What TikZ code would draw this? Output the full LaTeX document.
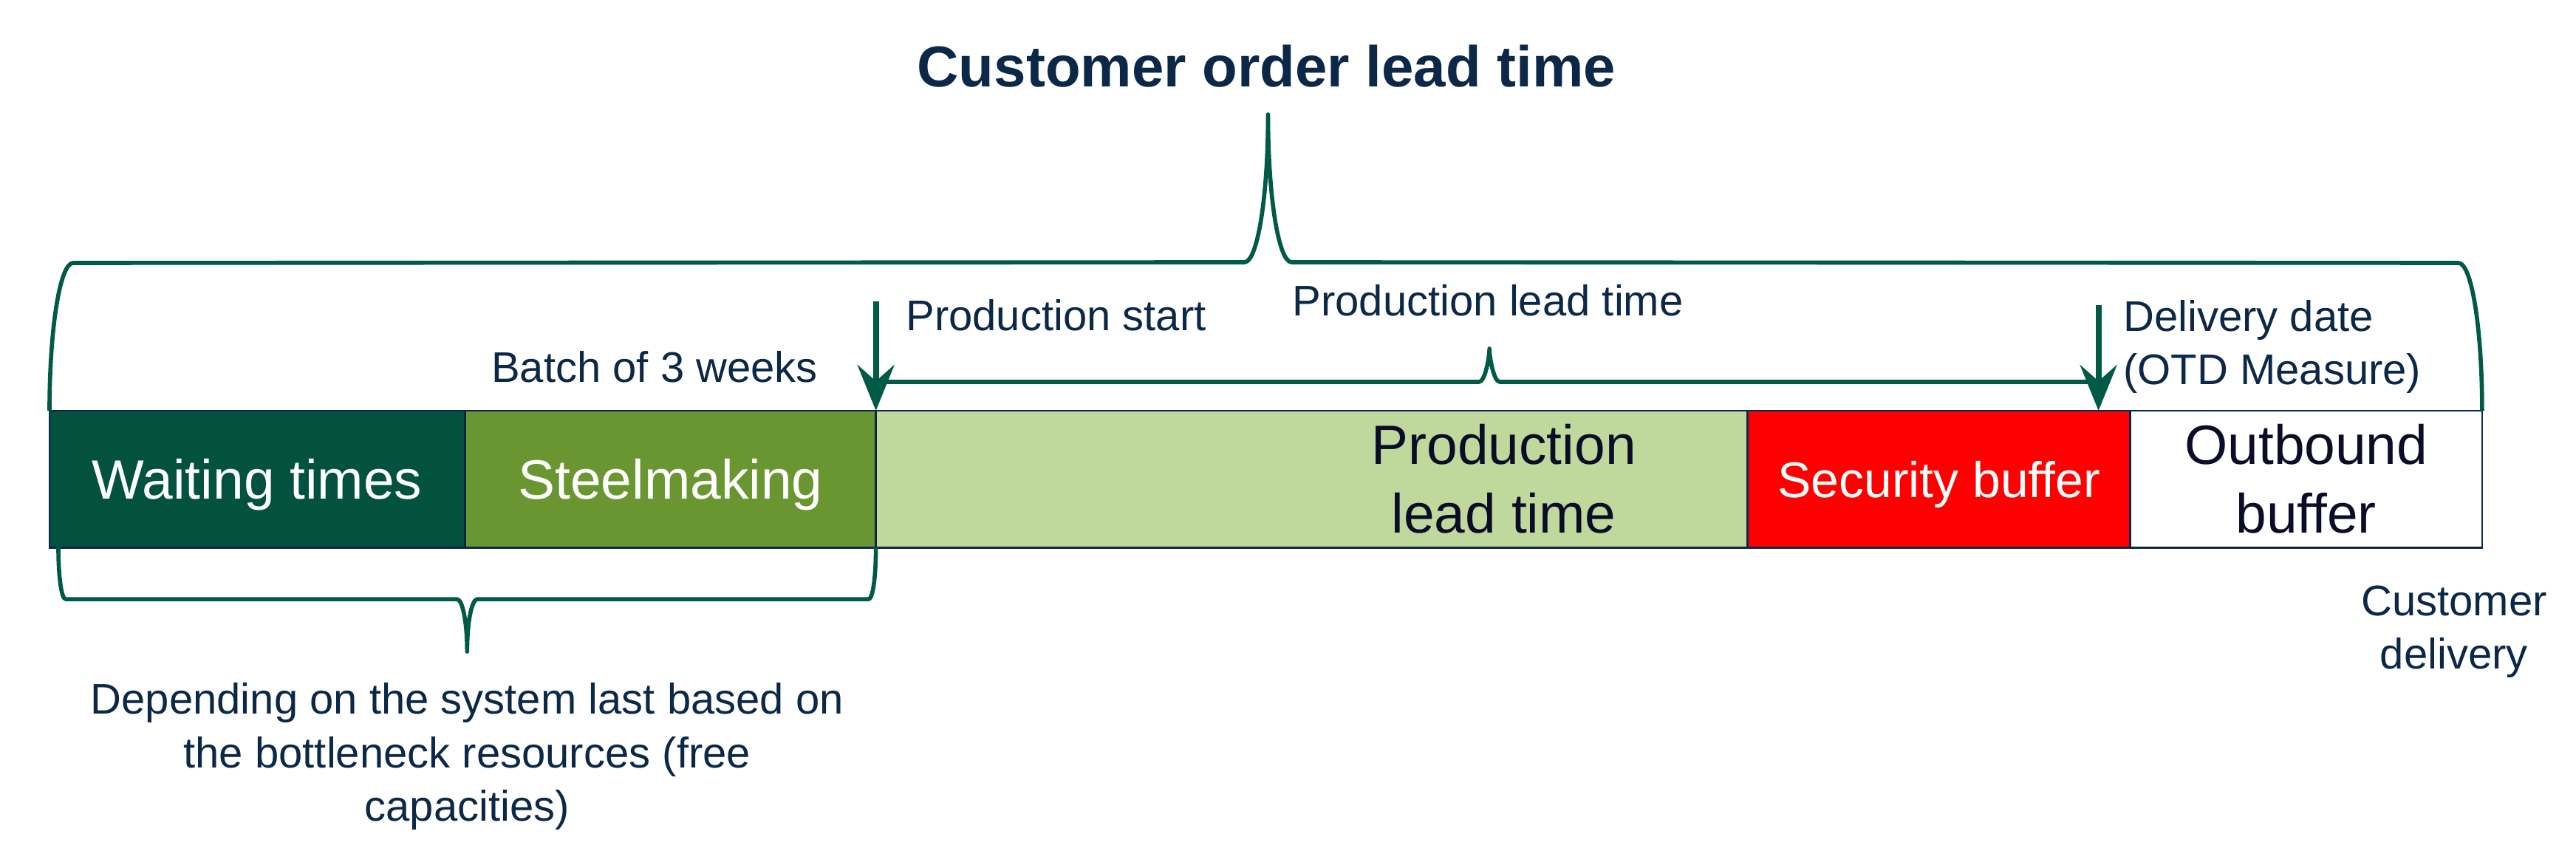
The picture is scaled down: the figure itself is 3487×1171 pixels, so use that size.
\documentclass[tikz,border=0pt]{standalone}
\usepackage{fontspec}
\setmainfont{Liberation Sans}
\usetikzlibrary{positioning,calc,arrows.meta}
\definecolor{bracegreen}{RGB}{0,90,70}
\definecolor{navytext}{RGB}{12,40,72}
\definecolor{waitgreen}{RGB}{3,82,63}
\definecolor{steelgreen}{RGB}{106,150,50}
\definecolor{prodgreen}{RGB}{191,217,156}
\definecolor{secred}{RGB}{255,0,0}
\definecolor{bartext}{RGB}{10,12,40}
\begin{document}
\begin{tikzpicture}[
		x=0.01cm, y=-0.01cm,
		segment/.style={draw=navytext, line width=0.8pt, minimum height=1.85cm, inner sep=0pt, outer sep=0pt, align=center, font=\fontsize{21.3}{26.5}\selectfont},
		note/.style={text=navytext, align=center, inner sep=0pt, font=\fontsize{16.5}{20.5}\selectfont},
		bracket/.style={draw=bracegreen, line width=1.6pt, line join=round},
		marker/.style={draw=bracegreen, line width=2.2pt, -{Stealth[length=0.62cm, width=0.5cm, inset=0.22cm]}}
	]
	\useasboundingbox (0,0) rectangle (3487,1171);
	% time bar
	\node[segment, fill=waitgreen, text=white, text depth=0pt, minimum width=5.62cm, anchor=north west] (wait) at (67,556) {Waiting times};
	\node[segment, fill=steelgreen, text=white, text depth=0pt, minimum width=5.56cm, right=0pt of wait] (steel) {Steelmaking};
	\node[segment, fill=prodgreen, minimum width=11.79cm, right=0pt of steel] (prod) {};
	\node[segment, fill=secred, text=white, text depth=0pt, minimum width=5.18cm, right=0pt of prod, font=\fontsize{19.3}{23}\selectfont] (sec) {Security buffer};
	\node[segment, fill=white, text=bartext, minimum width=4.76cm, right=0pt of sec] (outb) {Outbound\\buffer};
	\node[segment, draw=none, text=bartext, xshift=2.6cm] (prodtext) at (prod.center) {Production\\lead time};

	% key points
	\coordinate (pstip) at (prod.north west);
	\coordinate (pstop) at ([yshift=1.48cm]prod.north west);
	\coordinate (ddtip) at ([xshift=-0.43cm]sec.north east);
	\coordinate (ddtop) at ([xshift=-0.43cm, yshift=1.43cm]sec.north east);
	\coordinate (ordertip) at ($(wait.north west)!0.5!(outb.north east)+(3,-401)$);
	\coordinate (prodtip) at ($(pstip)!0.5!(ddtip)+(3,-84)$);
	\coordinate (waittip) at ($(wait.south west)!0.5!(steel.south east)+(6,141)$);

	% braces
	\draw[bracket] (wait.north west) .. controls +(0,-110) and +(-18,0) .. ++(32,-200)
		-- ($(ordertip)+(-32,200)$) .. controls +(18,0) and +(0,110) .. (ordertip)
		.. controls +(0,110) and +(-18,0) .. ++(32,200)
		-- ($(outb.north east)+(-32,-200)$) .. controls +(18,0) and +(0,-110) .. (outb.north east);
	\draw[bracket] ($(pstip)+(0,-16)$) .. controls +(0,-12) and +(-8,0) .. ++(14,-23)
		-- ($(prodtip)+(-14,45)$) .. controls +(8,0) and +(0,12) .. (prodtip)
		.. controls +(0,12) and +(-8,0) .. ++(14,45)
		-- ($(ddtip)+(-14,-39)$) .. controls +(8,0) and +(0,-12) .. ($(ddtip)+(0,-16)$);
	\draw[bracket] ([xshift=0.12cm]wait.south west) .. controls +(0,39) and +(-6,0) .. ++(10,70)
		-- ($(waittip)+(-14,-71)$) .. controls +(8,0) and +(0,-39) .. (waittip)
		.. controls +(0,-39) and +(-8,0) .. ++(14,-71)
		-- ($(steel.south east)+(-10,70)$) .. controls +(6,0) and +(0,39) .. (steel.south east);

	% markers
	\draw[marker] (pstop) -- (pstip);
	\draw[marker] (ddtop) -- (ddtip);

	% labels (base = last line)
	\node[note, anchor=base, font=\bfseries\fontsize{22.2}{26}\selectfont] (ordertitle) at ($(ordertip)+(-2,-37)$) {Customer order lead time};
	\node[note, anchor=base] (prodlabel) at ($(prodtip)+(-2,-44)$) {Production lead time};
	\node[note, anchor=base west] (startlabel) at ($(pstop)+(40,40)$) {Production start};
	\node[note, anchor=base east] (batchlabel) at ($(pstip)+(-78,-38)$) {Batch of 3 weeks};
	\node[note, anchor=base west, align=left] (datelabel) at ($(ddtop)+(33,108)$) {Delivery date\\(OTD Measure)};
	\node[note, anchor=base] (deliverylabel) at ($(outb.south east)+(-38,164)$) {Customer\\delivery};
	\node[note, anchor=base] (capacitylabel) at ($(waittip)+(0,229)$) {Depending on the system last based on\\the bottleneck resources (free\\capacities)};
\end{tikzpicture}
\end{document}
